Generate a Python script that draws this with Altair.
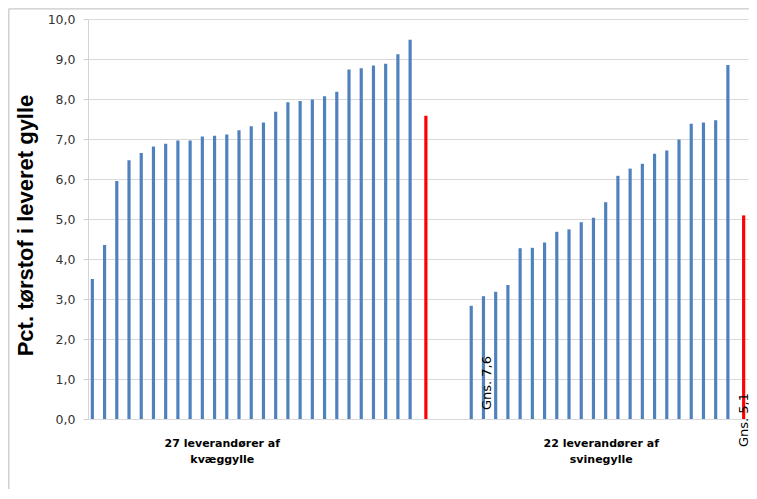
import altair as alt
import pandas as pd

# Pct. tørstof per leverandør (aflæst)
kvaeg = [3.50, 4.35, 5.95, 6.47, 6.65, 6.81, 6.88, 6.96, 6.96, 7.06, 7.08, 7.11,
         7.22, 7.32, 7.41, 7.68, 7.92, 7.95, 7.99, 8.07, 8.18, 8.74, 8.77, 8.84,
         8.88, 9.12, 9.48]
svine = [2.83, 3.07, 3.18, 3.35, 4.27, 4.28, 4.41, 4.68, 4.74, 4.92, 5.03, 5.42,
         6.08, 6.26, 6.38, 6.63, 6.71, 6.99, 7.38, 7.41, 7.47, 8.85]
gns = [7.58, 5.09]
gns_labels = ["Gns. 7,6", "Gns. 5,1"]
group_labels = ["27 leverandører af\nkvæggylle", "22 leverandører af\nsvinegylle"]
y_ticks = [0, 1, 2, 3, 4, 5, 6, 7, 8, 9, 10]

GAP = 3
n1 = len(kvaeg)
start2 = n1 + 1 + GAP + 1
n_cat = start2 + len(svine)
cats = list(range(1, n_cat + 1))

rows = []
for i, v in enumerate(kvaeg):
    rows.append({"cat": 1 + i, "value": v, "series": "lev"})
rows.append({"cat": n1 + 1, "value": gns[0], "series": "gns"})
for i, v in enumerate(svine):
    rows.append({"cat": start2 + i, "value": v, "series": "lev"})
rows.append({"cat": n_cat, "value": gns[1], "series": "gns"})
df = pd.DataFrame(rows)

x_axis = alt.Axis(labels=False, ticks=False, domain=False, grid=False, title=None)
x_enc = alt.X("cat:O", scale=alt.Scale(domain=cats, paddingInner=0, paddingOuter=0, range=[0, 660]),
              axis=x_axis)
xoff_enc = alt.XOffset("series:N", scale=alt.Scale(domain=["lev", "gns"], paddingInner=0.1, paddingOuter=0.78))
y_scale = alt.Scale(domain=[0, 10], nice=False)
y_axis = alt.Axis(values=y_ticks, tickCount=11, labelOverlap=False,
                  labelExpr="replace(format(datum.value, '.1f'), '.', ',')",
                  labelFont="DejaVu Sans", labelFontSize=12.5, labelColor="#333333",
                  labelPadding=8, tickSize=5, tickColor="#d4d4d4",
                  domainColor="#d4d4d4", gridColor="#d9d9d9", gridWidth=1.2,
                  title="Pct. tørstof i leveret gylle", titleFont="Liberation Sans",
                  titleFontSize=22, titleFontWeight="bold", titleColor="black",
                  titleX=-63, titleY=206, titleAngle=270, titleAlign="center",
                  titleBaseline="middle")
y_enc = alt.Y("value:Q", scale=y_scale, axis=y_axis)

one = pd.DataFrame({"a": [0]})
frame_left = alt.Chart(one).mark_rule(color="#c9c9c9", strokeWidth=1.3).encode(
    x=alt.value(-79.2), y=alt.value(-10.2), y2=alt.value(520)
)
frame_top = alt.Chart(one).mark_rule(color="#c9c9c9", strokeWidth=1.3).encode(
    x=alt.value(-79.2), x2=alt.value(720), y=alt.value(-10.2)
)

bars = alt.Chart(df).mark_bar().encode(
    x=x_enc,
    xOffset=xoff_enc,
    y=y_enc,
    color=alt.Color("series:N", scale=alt.Scale(domain=["lev", "gns"], range=["#4f81bd", "#ff0000"]),
                    legend=None),
)

df_g1 = pd.DataFrame({"cat": [start2 + 1], "series": ["gns"], "text": [gns_labels[0]], "value": [0]})
df_g2 = pd.DataFrame({"cat": [n_cat], "series": ["gns"], "text": [gns_labels[1]], "value": [0]})

gtxt1 = alt.Chart(df_g1).mark_text(angle=270, align="left", baseline="middle", dx=9,
                                   font="DejaVu Sans", fontSize=13, color="black").encode(
    x=x_enc, xOffset=xoff_enc, y=y_enc, text="text:N"
)
gtxt2 = alt.Chart(df_g2).mark_text(angle=270, align="left", baseline="middle", dx=-28,
                                   font="DejaVu Sans", fontSize=13, color="black").encode(
    x=x_enc, xOffset=xoff_enc, y=y_enc, text="text:N"
)

df_lab = pd.DataFrame({"cat": [11, start2 + 10], "text": group_labels, "value": [0, 0]})
labtxt = alt.Chart(df_lab).mark_text(align="center", baseline="top", dx=6, dy=19, lineBreak="\n",
                                     lineHeight=16, font="DejaVu Sans", fontSize=11,
                                     fontWeight="bold", color="black").encode(
    x=x_enc, y=y_enc, text="text:N"
)

chart = alt.layer(frame_left, frame_top, bars, gtxt1, gtxt2, labtxt).properties(
    width=661, height=400,
    autosize=alt.AutoSizeParams(type="none"),
    padding={"left": 80, "top": 11, "right": 0, "bottom": 70},
).configure_view(strokeWidth=0)

chart.save("out.html", embed_options={"renderer": "svg", "actions": False})
